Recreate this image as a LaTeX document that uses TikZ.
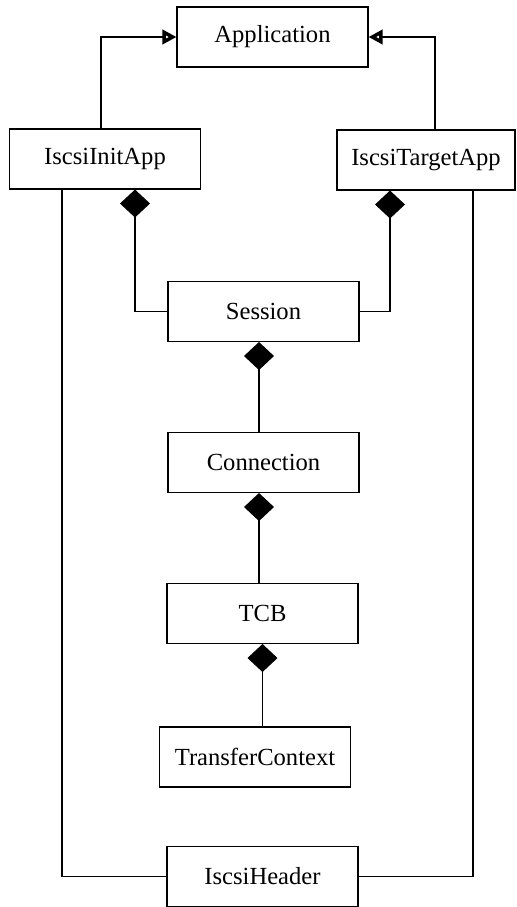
\documentclass[tikz,border=0pt]{standalone}
\usepackage{fontspec}
\setmainfont{Liberation Serif}
\usepackage{tikz}
\usetikzlibrary{arrows.meta}
\tikzset{
  classbox/.style={
    draw, line width=0.6pt, minimum width=3.82cm, minimum height=1.2cm,
    font=\fontsize{14}{16}\selectfont, inner sep=0pt
  },
  genarrow/.style={-{Triangle[open, length=2.8mm, width=2.8mm, line width=2.2pt]}, line width=0.6pt},
  compline/.style={{Diamond[length=5.6mm, width=6mm]}-, line width=0.6pt},
  assocline/.style={line width=0.6pt}
}
\begin{document}
\begin{tikzpicture}[x=0.02cm, y=-0.02cm]
  \useasboundingbox (0,0) rectangle (517,907);

  % classes
  \node[classbox] (app) at (272.5,37) {Application};
  \node[classbox] (init) at (105,159) {IscsiInitApp};
  \node[classbox, minimum width=3.56cm] (target) at (426,160) {IscsiTargetApp};
  \node[classbox] (session) at (263.5,311.5) {Session};
  \node[classbox] (conn) at (263.5,462.5) {Connection};
  \node[classbox] (tcb) at (262.5,613.5) {TCB};
  \node[classbox] (xfer) at (255,757) {TransferContext};
  \node[classbox] (header) at (262.5,876.5) {IscsiHeader};

  % generalisation
  \draw[genarrow] ([xshift=-0.8mm]init.north) |- (app.west);
  \draw[genarrow] ([xshift=1.8mm]target.north) |- (app.east);

  % composition
  \draw[compline] ([xshift=6mm]init.south) |- (session.west);
  \draw[compline] ([xshift=-7.2mm]target.south) |- (session.east);
  \draw[compline] ([xshift=-0.9mm]session.south) -- ([xshift=-0.9mm]conn.north);
  \draw[compline] ([xshift=-0.9mm]conn.south) -- ([xshift=-0.9mm]conn.south |- tcb.north);
  \draw[compline] (tcb.south) -- (tcb.south |- xfer.north);

  % header use
  \draw[assocline] ([xshift=-8.6mm]init.south) |- (header.west);
  \draw[assocline] ([xshift=9.4mm]target.south) |- (header.east);
\end{tikzpicture}
\end{document}
